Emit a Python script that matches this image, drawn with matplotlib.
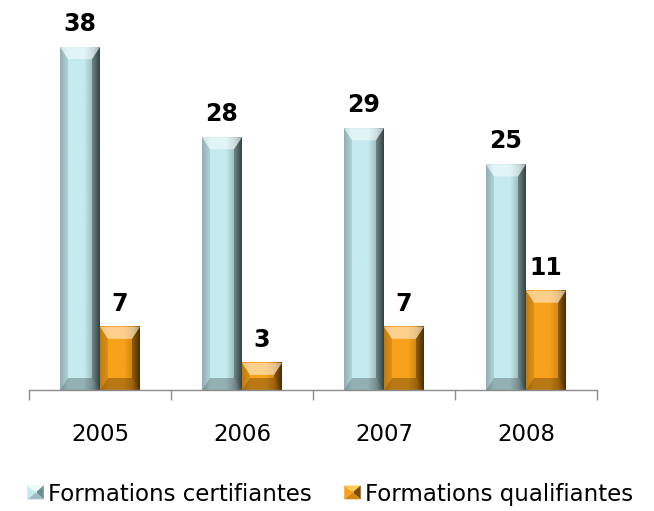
import numpy as np
import matplotlib
matplotlib.use("Agg")
import matplotlib.pyplot as plt
from matplotlib.patches import Polygon, Rectangle
from matplotlib.colors import LinearSegmentedColormap
from matplotlib.legend_handler import HandlerBase

# ---------------- data ----------------
years = ["2005", "2006", "2007", "2008"]
certifiantes = [38, 28, 29, 25]
qualifiantes = [7, 3, 7, 11]
series_names = ["Formations certifiantes", "Formations qualifiantes"]

# ---------------- style ----------------
W_PX, H_PX = 654, 511
DPI = 100
FONT = "DejaVu Sans"
plt.rcParams["font.family"] = [FONT]

cyan_stops = [(0.0, "#a3c3c6"), (0.2, "#c5ebef"), (0.6, "#c5ebef"),
              (0.82, "#9dbcbf"), (1.0, "#4c6365")]
orange_stops = [(0.0, "#d58a12"), (0.2, "#f8a11b"), (0.6, "#f8a11b"),
                (0.82, "#d08512"), (1.0, "#6a4306")]
cmaps = [LinearSegmentedColormap.from_list("c", cyan_stops),
         LinearSegmentedColormap.from_list("o", orange_stops)]
legend_cols = [("#c5ebef", "#e8fafc", "#6f8e91", "#9dbdc0"),
               ("#f8a11b", "#ffcc55", "#7a4d08", "#d28612")]

fig = plt.figure(figsize=(W_PX / DPI, H_PX / DPI), dpi=DPI)
ax_left, ax_bottom = 29 / W_PX, 121 / H_PX
ax_w, ax_h = 568 / W_PX, 361 / H_PX
ax = fig.add_axes([ax_left, ax_bottom, ax_w, ax_h])

n = len(years)
XMAX, YMAX = n, 40.0
ax.set_xlim(0, XMAX)
ax.set_ylim(0, YMAX)

px_x = XMAX / 568.0
px_y = YMAX / 361.0
bar_w = 40 * px_x
bev_x = 8 * px_x
bev_y = 12 * px_y

grad = np.linspace(0, 1, 256).reshape(1, -1)


def bevel_bar(x0, h, cmap):
    ax.imshow(grad, cmap=cmap, extent=(x0, x0 + bar_w, 0, h), aspect="auto",
              interpolation="bilinear", zorder=2)
    by = min(bev_y, h / 2.0)
    x1 = x0 + bar_w
    top = [(x0, h), (x1, h), (x1 - bev_x, h - by), (x0 + bev_x, h - by)]
    bot = [(x0, 0), (x1, 0), (x1 - bev_x, by), (x0 + bev_x, by)]
    left = [(x0, 0), (x0 + bev_x, by), (x0 + bev_x, h - by), (x0, h)]
    right = [(x1, 0), (x1 - bev_x, by), (x1 - bev_x, h - by), (x1, h)]
    ax.add_patch(Polygon(top, closed=True, fc="white", alpha=0.5, lw=0, zorder=3))
    ax.add_patch(Polygon(bot, closed=True, fc="black", alpha=0.25, lw=0, zorder=3))
    ax.add_patch(Polygon(left, closed=True, fc="black", alpha=0.10, lw=0, zorder=3))
    ax.add_patch(Polygon(right, closed=True, fc="black", alpha=0.32, lw=0, zorder=3))


centers = np.arange(n) + 0.5
for i, (c, q) in enumerate(zip(certifiantes, qualifiantes)):
    bevel_bar(centers[i] - bar_w, c, cmaps[0])
    bevel_bar(centers[i], q, cmaps[1])
    for xc, v in ((centers[i] - bar_w / 2, c), (centers[i] + bar_w / 2, q)):
        ax.annotate(str(v), xy=(xc, v), xytext=(0, 11.5), textcoords="offset points",
                    ha="center", va="baseline", fontsize=17, fontweight="bold",
                    color="black", annotation_clip=False)

ax.set_xlim(0, XMAX)
ax.set_ylim(0, YMAX)

# axes styling
for s in ("top", "right", "left"):
    ax.spines[s].set_visible(False)
ax.spines["bottom"].set_color("#8c8c8c")
ax.spines["bottom"].set_linewidth(1.0)
ax.spines["bottom"].set_zorder(5)
ax.set_yticks([])
ax.set_xticks(np.arange(n + 1))
ax.set_xticklabels([])
ax.tick_params(axis="x", which="major", length=7.5, width=1.0, color="#8c8c8c",
               direction="out")
ax.set_xticks(centers, minor=True)
ax.set_xticklabels(years, minor=True, fontsize=16.5)
ax.tick_params(axis="x", which="minor", length=0, pad=24)


class BevelHandler(HandlerBase):
    def __init__(self, cols):
        super().__init__()
        self.cols = cols

    def create_artists(self, legend, orig_handle, xdescent, ydescent, width,
                       height, fontsize, trans):
        face, light, dark, mid = self.cols
        x0, y0 = -xdescent, -ydescent
        x1, y1 = x0 + width, y0 + height
        cx, cy = x0 + width / 2, y0 + height / 2
        dx, dy = width * 0.08, height * 0.08
        arts = [
            Polygon([(x0, y1), (x1, y1), (cx, cy)], fc=light, lw=0),
            Polygon([(x1, y0), (x1, y1), (cx, cy)], fc=dark, lw=0),
            Polygon([(x0, y0), (x1, y0), (cx, cy)], fc=mid, lw=0),
            Polygon([(x0, y0), (x0, y1), (cx, cy)], fc=face, lw=0),
            Rectangle((cx - dx, cy - dy), 2 * dx, 2 * dy, fc=face, lw=0),
        ]
        for a in arts:
            a.set_transform(trans)
        return arts


h1 = Rectangle((0, 0), 1, 1)
h2 = Rectangle((0, 0), 1, 1)
fig.legend([h1, h2], series_names, loc="center",
           bbox_to_anchor=(330 / W_PX, 17 / H_PX), ncol=2, frameon=False,
           fontsize=16.5, handlelength=0.72, handleheight=0.55,
           handletextpad=0.17, columnspacing=1.43, borderpad=0.2,
           handler_map={h1: BevelHandler(legend_cols[0]),
                        h2: BevelHandler(legend_cols[1])})

fig.savefig("out.png", dpi=DPI)
